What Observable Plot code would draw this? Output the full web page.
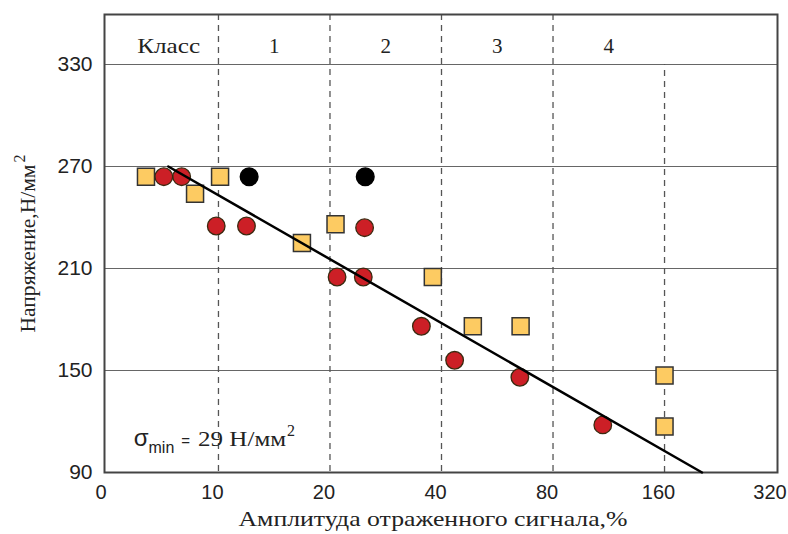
<!DOCTYPE html>
<html>
<head>
<meta charset="utf-8">
<script src="https://cdn.jsdelivr.net/npm/d3@7"></script>
<script src="https://cdn.jsdelivr.net/npm/@observablehq/plot@0.6"></script>
<style>
  html, body { margin: 0; padding: 0; background: #fff; }
  svg { display: block; }
</style>
</head>
<body>
<div id="chart"></div>
<script>
// ---- data ----
const xTickLabels = ["0", "10", "20", "40", "80", "160", "320"];
const yTicks = [90, 150, 210, 270, 330];
const classBounds = [0, 10, 20, 40, 80, 160];
const classLabels = ["Класс", "1", "2", "3", "4"];

const squareAmp = [3.5, 7.9, 10.1, 16.8, 20.7, 37.9, 48.6, 65.4, 160, 160];
const squareStress = [264, 254, 264, 225, 236, 205, 176, 176, 147, 117];

const redAmp = [5.1, 6.7, 9.8, 11.9, 24.8, 20.9, 24.6, 35.3, 43.4, 65.1, 109];
const redStress = [264, 264, 235, 235, 234, 205, 205, 176, 156, 146, 118];

const blackAmp = [12.1, 24.9];
const blackStress = [264, 264];

const trendAmp = [5.5, 202];
const trendStress = [270, 90];

const noteAmp = 2.4;
const noteStress = 110;

// amplitude -> position on the class axis (0..10 linear, then octaves)
const pos = a => a <= 10 ? a / 10 : 1 + Math.log2(a / 10);

const zip = (A, S) => A.map((a, i) => ({x: pos(a), y: S[i]}));
const squares = zip(squareAmp, squareStress);
const reds = zip(redAmp, redStress);
const blacks = zip(blackAmp, blackStress);
const trend = zip(trendAmp, trendStress);

const boundsPos = classBounds.map(pos);
const innerBounds = boundsPos.slice(1, 5); // 10,20,40,80 go to the top
const lastBound = [boundsPos[5]];           // 160 stops at 330
const classMid = classLabels.map((t, i) => ({t, x: (boundsPos[i] + boundsPos[i + 1]) / 2}));

const serif = "'Liberation Serif', 'DejaVu Serif', serif";
const sans = "'Liberation Sans', Arial, sans-serif";

const chart = Plot.plot({
  width: 788,
  height: 534,
  marginLeft: 104,
  marginRight: 11,
  marginTop: 14,
  marginBottom: 62,
  style: {background: "#fff", fontFamily: serif},
  x: {type: "linear", domain: [-0.022, 6.013]},
  y: {type: "linear", domain: [90, 359.4]},
  marks: [
    Plot.ruleY(yTicks.slice(1), {stroke: "#666", strokeWidth: 1.2}),
    Plot.ruleX(innerBounds, {stroke: "#555", strokeWidth: 1.3, strokeDasharray: "6,5"}),
    Plot.ruleX(lastBound, {y1: 90, y2: yTicks[4], stroke: "#555", strokeWidth: 1.3, strokeDasharray: "6,5"}),
    Plot.frame({stroke: "#444", strokeWidth: 2}),
    Plot.axisY({ticks: yTicks, tickSize: 0, tickPadding: 12, label: null, fontSize: 21, fontFamily: sans, fill: "#222"}),
    Plot.axisX({ticks: [0, 1, 2, 3, 4, 5, 6], tickFormat: i => xTickLabels[i], tickSize: 0, tickPadding: 12, dx: -6, label: null, fontSize: 20, fontFamily: sans, fill: "#222"}),
    Plot.text(classMid, {x: "x", text: "t", frameAnchor: "top", dy: 24, fontSize: 21, fontFamily: serif, fill: "#222", className: "classlab"}),
    Plot.dot(squares, {x: "x", y: "y", symbol: "square", r: 9.6, fill: "#fdcb62", stroke: "#333", strokeWidth: 1.5}),
    Plot.dot(reds, {x: "x", y: "y", r: 8.8, fill: "#cc1f26", stroke: "#3a2a10", strokeWidth: 1.3}),
    Plot.dot(blacks, {x: "x", y: "y", r: 8.8, fill: "#000", stroke: "#000"}),
    Plot.line(trend, {x: "x", y: "y", stroke: "#000", strokeWidth: 2.5}),
    Plot.text([{x: pos(noteAmp), y: noteStress}], {x: "x", y: "y", text: () => "σmin = 29 Н/мм2", textAnchor: "start", fontSize: 22, fontFamily: serif, fill: "#222", className: "sigma-note"}),
    Plot.text(["Напряжение,Н/мм2"], {text: d => d, frameAnchor: "left", textAnchor: "middle", rotate: -90, dx: -76, fontSize: 21, fontFamily: serif, fill: "#222", className: "ylab"}),
    Plot.text(["Амплитуда отраженного сигнала,%"], {text: d => d, frameAnchor: "bottom", dy: 53, dx: -8, fontSize: 22, fontFamily: serif, fill: "#222", className: "xlab"})
  ]
});

document.getElementById("chart").appendChild(chart);

const sel = s => d3.select(chart).select(s);

// rich text: subscript / superscript, widths stretched like the reference
const note = sel(".sigma-note text");
if (!note.empty()) {
  note.text(null);
  note.append("tspan").attr("font-size", 24).attr("font-family", sans).text("σ");
  note.append("tspan").attr("font-size", 16).attr("font-family", sans).attr("dy", 7).text("min");
  note.append("tspan").attr("font-size", 15).attr("font-family", sans).attr("dy", -7).attr("dx", 7).text("=");
  note.append("tspan").attr("dx", 8).attr("textLength", 88).attr("lengthAdjust", "spacingAndGlyphs").text("29 Н/мм");
  note.append("tspan").attr("font-size", 16).attr("dx", 1).attr("dy", -10).text("2");
}
const yl = sel(".ylab text");
if (!yl.empty()) {
  yl.text(null);
  yl.append("tspan").attr("textLength", 168).attr("lengthAdjust", "spacingAndGlyphs").text("Напряжение,Н/мм");
  yl.append("tspan").attr("font-size", 16).attr("dx", 2).attr("dy", -10).text("2");
}
const xl = sel(".xlab text");
if (!xl.empty()) xl.attr("textLength", 389).attr("lengthAdjust", "spacingAndGlyphs");
const kl = d3.select(chart).selectAll(".classlab text").filter(function() { return this.textContent === "Класс"; });
kl.attr("textLength", 63).attr("lengthAdjust", "spacingAndGlyphs").attr("dx", 6);
</script>
</body>
</html>
